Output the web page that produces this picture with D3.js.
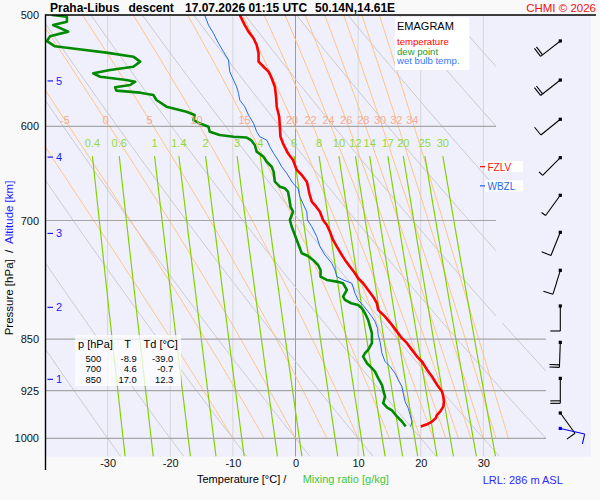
<!DOCTYPE html>
<html>
<head>
<meta charset="utf-8">
<title>Emagram Praha-Libus</title>
<script src="https://cdn.jsdelivr.net/npm/d3@7"></script>
<style>
  body { margin: 0; background: #f9f9f9; }
  svg text { font-family: "Liberation Sans", Arial, sans-serif; }
</style>
</head>
<body>
<svg id="chart" width="600" height="500"></svg>
<script>
const pressureTicks = [500, 600, 700, 850, 925, 1000];
const temperatureTicks = [-30, -20, -10, 0, 10, 20, 30];
const altitudeKm = [1, 2, 3, 4, 5];
const altitudePressure = [908, 807, 715, 631, 557];
const mixingRatios = [0.4, 0.6, 1, 1.4, 2, 3, 4, 6, 8, 10, 12, 14, 17, 20, 25, 30];
const wetAdiabats = [-10, -5, 0, 5, 10, 15, 20, 22, 24, 26, 28, 30, 32, 34];
const dryAdiabats = [-30, -20, -10, 0, 10, 20, 30, 40, 50, 60, 70, 80, 90, 100, 110, 120];

// sounding, [pressure hPa, value °C]
const temperature = [[500,-8.9],[508.3,-8.1],[513.8,-7.5],[519.4,-6.7],[525.2,-6.2],[532.3,-5.9],[539.7,-5.9],[544.2,-5.1],[548.6,-4.3],[554.6,-3.8],[562.3,-3.3],[571.6,-3.1],[581.0,-3.0],[590.6,-2.6],[600.4,-2.5],[610.3,-2.4],[616.9,-2.0],[627.1,-1.2],[634.0,-0.4],[644.4,0.2],[649.8,1.0],[656.9,1.8],[662.3,2.0],[669.5,2.2],[678.8,2.6],[684.4,3.3],[690.0,3.9],[699.4,4.4],[705.2,5.0],[713.0,5.5],[722.7,6.0],[730.6,6.6],[740.7,7.4],[746.7,7.9],[755.0,8.7],[763.2,9.5],[769.5,10.0],[775.8,10.8],[784.3,11.6],[793.0,12.4],[801.6,13.0],[810.4,13.2],[819.4,14.3],[830.5,15.4],[839.7,16.2],[848.8,17.0],[855.8,17.8],[865.2,18.6],[874.7,19.4],[881.9,20.2],[889.2,20.7],[896.5,21.2],[903.8,21.8],[911.3,22.3],[918.8,22.8],[926.3,23.4],[933.9,23.6],[941.6,23.7],[949.4,23.6],[957.2,23.1],[962.3,22.6],[967.5,22.4],[972.9,21.8],[977.4,21.0],[980.9,20.0]];

const dewPoint = [[500,-38.9],[501.4,-36.5],[505.5,-36.5],[508.3,-38.7],[513.8,-36.3],[517.8,-39.2],[521.8,-39.7],[526.3,-38.4],[528.6,-34.9],[531.8,-30.2],[535.3,-25.9],[539.7,-24.8],[544.2,-25.9],[547.1,-29.6],[550.1,-32.3],[553.2,-31.2],[556.2,-27.0],[557.7,-25.6],[560.7,-26.4],[562.8,-28.8],[565.9,-28.6],[567.8,-24.8],[570.0,-22.7],[574.7,-22.2],[581.0,-20.6],[585.8,-17.4],[589.0,-16.1],[593.8,-16.3],[597.0,-15.3],[600.4,-13.9],[605.3,-13.7],[608.6,-12.1],[610.3,-9.9],[611.1,-7.8],[613.6,-7.1],[618.6,-6.5],[625.4,-6.2],[630.6,-5.1],[635.8,-4.6],[641.0,-3.8],[646.2,-3.5],[656.9,-3.3],[662.3,-2.5],[664.1,-1.7],[667.8,-1.2],[675.0,-1.0],[684.4,-0.8],[690.0,-0.4],[693.7,-0.6],[699.4,-0.9],[707.2,-0.6],[716.8,-0.1],[728.6,0.5],[738.6,1.0],[741.9,2.0],[746.7,2.8],[752.9,3.6],[759.1,4.0],[767.4,4.0],[771.6,5.0],[773.7,6.6],[775.8,7.6],[784.3,8.2],[793.0,7.6],[797.3,7.9],[801.6,8.9],[803.8,10.0],[808.2,10.6],[814.8,11.1],[823.8,11.6],[832.8,11.9],[841.9,12.2],[855.8,12.2],[865.2,11.6],[869.9,11.1],[874.7,10.8],[884.3,11.4],[891.5,12.2],[896.5,12.7],[906.2,13.2],[916.2,13.8],[923.7,14.0],[933.9,14.3],[944.1,14.0],[950.6,14.6],[955.3,15.4],[965.0,16.2],[972.9,17.0],[980.9,17.6]];

const wetBulb = [[500,-14.5],[504.1,-14.2],[508.3,-13.9],[515.2,-13.1],[523.7,-12.3],[531.0,-11.5],[538.2,-10.7],[548.6,-10.5],[556.2,-9.9],[562.3,-9.4],[568.4,-9.1],[574.7,-8.9],[581.0,-8.1],[589.0,-7.5],[597.0,-6.7],[605.3,-6.2],[610.3,-5.7],[613.6,-4.6],[620.3,-4.1],[627.1,-3.5],[634.0,-2.8],[641.0,-2.2],[648.0,-1.4],[658.7,-0.4],[664.1,0.4],[673.3,0.7],[682.5,1.3],[690.0,1.8],[699.4,1.9],[707.2,2.6],[718.8,3.4],[730.6,3.9],[740.7,4.7],[750.8,5.8],[759.1,6.3],[767.4,6.6],[771.6,7.6],[775.8,9.0],[788.6,9.5],[797.3,10.0],[804.5,10.8],[812.7,11.6],[819.4,12.2],[826.1,12.7],[835.1,13.1],[844.2,13.2],[853.6,13.5],[869.9,13.8],[881.9,14.3],[889.2,15.1],[898.8,15.9],[908.7,16.4],[918.8,17.0],[928.7,17.2],[941.6,17.5],[951.8,18.0],[962.3,18.3],[972.9,18.6],[980.9,18.4]];

// wind barbs (knots), every 500 m
const windPressure = [521.7, 556.2, 593.1, 631.6, 671.7, 713.7, 759.5, 805.2, 854.6, 906.5, 959.4];
const windDirection = [232, 232, 231, 225, 216, 202, 197, 180, 182, 180, 144];
const windSpeed = [20, 20, 10, 5, 5, 10, 10, 10, 20, 20, 10];
const surfaceWind = {p: 984, dir: 103, speed: 10};

const tableRows = [['500', '-8.9', '-39.0'], ['700', '4.6', '-0.7'], ['850', '17.0', '12.3']];

const plotBottom = 456.7;
const frameRight = 591;

const svg = d3.select('#chart');

const xScale = d3.scaleLinear().domain([-40, 40]).range([45, 546]);
const yScale = d3.scaleLog().domain([500, 1000]).range([15, 438.3]);

const profileLine = d3.line()
  .x(d => xScale(d[1]))
  .y(d => yScale(d[0]));

svg.append('rect')
  .attr('width', 600).attr('height', 500)
  .attr('fill', '#f9f9f9');
svg.append('rect')
  .attr('x', 45).attr('y', 15)
  .attr('width', frameRight - 45).attr('height', plotBottom - 15)
  .attr('fill', '#f0f0fd');

// lines stop earlier at the top, to leave room for the barbs
const stepY = yScale(828);
svg.append('clipPath').attr('id', 'plotClip')
  .append('path')
  .attr('d', `M45,15H${xScale(32)}V${stepY}H${xScale(40)}V${plotBottom}H45Z`);

const grid = svg.append('g').attr('clip-path', 'url(#plotClip)');

grid.selectAll('.isotherm')
  .data(temperatureTicks)
  .join('line')
  .attr('x1', d => xScale(d)).attr('x2', d => xScale(d))
  .attr('y1', 15).attr('y2', plotBottom)
  .attr('stroke', d => d === 0 ? '#9c9c9c' : '#d6d6d6')
  .attr('stroke-width', 1);

// thermodynamic helpers
function satVap(tc) {
  return 6.112 * Math.exp(17.67 * tc / (tc + 243.5));
}
function dewFromMix(w, p) {
  const l = Math.log(w * p / (622 + w) / 6.112);
  return 243.5 * l / (17.67 - l);
}
function moistLapse(t, p) {
  const es = satVap(t - 273.15);
  const rs = 0.622 * es / (p - es);
  return (287.04 * t + 2.501e6 * rs) / (1005.7 + 2.501e6 * 2.501e6 * rs * 0.622 / (287.04 * t * t));
}
function moistLine(thw) {
  const pts = [];
  let t = thw + 273.15;
  for (let p = 1000; p >= 500; p -= 2) {
    pts.push([p, t - 273.15]);
    const dl = Math.log((p - 2) / p);
    const k1 = moistLapse(t, p);
    const k2 = moistLapse(t + k1 * dl / 2, p - 1);
    t += k2 * dl;
  }
  return pts;
}

const drySteps = d3.range(1030, 499, -5);
grid.selectAll('.dry')
  .data(dryAdiabats)
  .join('path')
  .attr('d', th => profileLine(drySteps.map(p => [p, (th + 273.15) * Math.pow(p / 1000, 0.2857) - 273.15])))
  .attr('fill', 'none')
  .attr('stroke', '#cacaca')
  .attr('stroke-width', 1);

const moistCurves = wetAdiabats.map(moistLine);
grid.selectAll('.moist')
  .data(moistCurves)
  .join('path')
  .attr('d', profileLine)
  .attr('fill', 'none')
  .attr('stroke', '#ffc27e')
  .attr('stroke-width', 1);

const mixSteps = d3.range(630, 1031, 10);
grid.selectAll('.mix')
  .data(mixingRatios)
  .join('path')
  .attr('d', w => profileLine(mixSteps.map(p => [p, dewFromMix(w, p)])))
  .attr('fill', 'none')
  .attr('stroke', '#84d000')
  .attr('stroke-width', 1.2);

grid.selectAll('.isobar')
  .data(pressureTicks.filter(p => p > 500))
  .join('line')
  .attr('x1', 45).attr('x2', xScale(40))
  .attr('y1', d => yScale(d)).attr('y2', d => yScale(d))
  .attr('stroke', '#a6a6a6')
  .attr('stroke-width', 1.2);

// labels of the background lines
const labelP = 594;
svg.selectAll('.moistLabel')
  .data(wetAdiabats.map((th, i) => ({th: th, t: moistCurves[i].find(d => d[0] <= labelP)[1]})).filter(d => xScale(d.t) > 55))
  .join('text')
  .attr('x', d => xScale(d.t))
  .attr('y', yScale(labelP) + 4)
  .attr('text-anchor', 'middle')
  .attr('font-size', 11)
  .attr('fill', '#f6ab90')
  .text(d => d.th);

svg.selectAll('.mixLabel')
  .data(mixingRatios)
  .join('text')
  .attr('x', w => xScale(dewFromMix(w, 630)))
  .attr('y', yScale(630) - 9.5)
  .attr('text-anchor', 'middle')
  .attr('font-size', 11)
  .attr('fill', '#92d83c')
  .text(w => w);

// profiles
const profiles = [
  {data: temperature, color: '#ff0000', width: 2.6},
  {data: dewPoint, color: '#008a00', width: 2.6},
  {data: wetBulb, color: '#2468f0', width: 1}
];
grid.selectAll('.profile')
  .data(profiles)
  .join('path')
  .attr('d', d => profileLine(d.data))
  .attr('fill', 'none')
  .attr('stroke', d => d.color)
  .attr('stroke-width', d => d.width)
  .attr('stroke-linejoin', 'round');

// freezing level / wet bulb zero
function zeroCrossing(data) {
  for (let i = 1; i < data.length; i++) {
    const a = data[i - 1], b = data[i];
    if (a[1] < 0 && b[1] >= 0) return a[0] + (b[0] - a[0]) * (-a[1]) / (b[1] - a[1]);
  }
  return null;
}
const levelLabels = [
  {name: 'FZLV', p: zeroCrossing(temperature), color: '#ff1010'},
  {name: 'WBZL', p: zeroCrossing(wetBulb), color: '#2468f0'}
];
const levels = svg.selectAll('.level')
  .data(levelLabels)
  .join('g')
  .attr('transform', d => `translate(0, ${yScale(d.p)})`);
levels.append('line')
  .attr('x1', 480).attr('x2', 485)
  .attr('stroke', d => d.color).attr('stroke-width', 1.3);
levels.append('rect')
  .attr('x', 485).attr('y', -5.5).attr('width', 38).attr('height', 11)
  .attr('fill', '#ffffff');
levels.append('text')
  .attr('x', 487.5).attr('y', 4.2)
  .attr('font-size', 10)
  .attr('fill', d => d.color)
  .text(d => d.name);

// axes
const leftAxis = svg.append('g')
  .attr('transform', 'translate(45, 0)')
  .call(d3.axisLeft(yScale).tickValues(pressureTicks).tickFormat(d => d).tickSize(0).tickPadding(6));
leftAxis.select('.domain').remove();
leftAxis.selectAll('text').attr('font-size', 11).attr('fill', '#111');

const bottomAxis = svg.append('g')
  .attr('transform', `translate(0, ${plotBottom})`)
  .call(d3.axisBottom(xScale).tickValues(temperatureTicks).tickFormat(d => d).tickSize(0).tickPadding(2));
bottomAxis.select('.domain').remove();
bottomAxis.selectAll('text').attr('font-size', 11).attr('fill', '#111');

svg.append('line')
  .attr('x1', 45.5).attr('x2', 45.5).attr('y1', 14.5).attr('y2', 470)
  .attr('stroke', '#000').attr('stroke-width', 1.4);
svg.append('line')
  .attr('x1', 45).attr('x2', 596).attr('y1', 15).attr('y2', 15)
  .attr('stroke', '#000').attr('stroke-width', 1.6);

const altTicks = svg.selectAll('.alt')
  .data(altitudeKm)
  .join('g')
  .attr('transform', (d, i) => `translate(0, ${yScale(altitudePressure[i])})`);
altTicks.append('line')
  .attr('x1', 47.5).attr('x2', 53)
  .attr('stroke', '#1a1aff').attr('stroke-width', 1.2);
altTicks.append('text')
  .attr('x', 56).attr('y', 4)
  .attr('font-size', 11)
  .attr('fill', '#1a1aff')
  .text(d => d);

// wind barbs
const barbs = svg.append('g');
function drawBarb(p, dir, speed, color) {
  const x0 = 560.3, y0 = yScale(p);
  const rad = dir * Math.PI / 180;
  const ux = Math.sin(rad), uy = -Math.cos(rad);
  const len = 25;
  const g = barbs.append('g').attr('stroke', color).attr('stroke-width', 1.1);
  g.append('line')
    .attr('x1', x0).attr('y1', y0)
    .attr('x2', x0 + ux * len).attr('y2', y0 + uy * len);
  const feather = (pos, size) => {
    const bx = x0 + ux * pos, by = y0 + uy * pos;
    g.append('line')
      .attr('x1', bx).attr('y1', by)
      .attr('x2', bx - uy * size).attr('y2', by + ux * size);
  };
  let rest = speed, pos = len;
  while (rest >= 10) {
    feather(pos, 10);
    pos -= 2.5;
    rest -= 10;
  }
  if (rest >= 5) feather(pos, 5);
  g.append('rect')
    .attr('x', x0 - 1.6).attr('y', y0 - 1.6)
    .attr('width', 3.2).attr('height', 3.2)
    .attr('fill', color).attr('stroke', 'none');
}
windPressure.forEach((p, i) => drawBarb(p, windDirection[i], windSpeed[i], '#000'));
drawBarb(surfaceWind.p, surfaceWind.dir, surfaceWind.speed, '#0000ee');

// legend
svg.append('rect')
  .attr('x', 395).attr('y', 17.3).attr('width', 74.3).attr('height', 52.7)
  .attr('fill', '#ffffff');
svg.append('text').attr('x', 397).attr('y', 29.5).attr('font-size', 11).attr('fill', '#000').text('EMAGRAM');
const legendItems = [['temperature', '#ff0000'], ['dew point', '#1f9a1f'], ['wet bulb temp.', '#3377ff']];
svg.selectAll('.legendItem')
  .data(legendItems)
  .join('text')
  .attr('x', 397)
  .attr('y', (d, i) => 45 + i * 9.7)
  .attr('font-size', 9.6)
  .attr('fill', d => d[1])
  .text(d => d[0]);

// table of standard levels
svg.append('rect')
  .attr('x', 75).attr('y', 335).attr('width', 106).attr('height', 51)
  .attr('fill', '#ffffff').attr('fill-opacity', 0.75);
const table = svg.append('g').attr('fill', '#000');
table.append('text').attr('x', 78).attr('y', 347.5).attr('font-size', 11).text('p [hPa]');
table.append('text').attr('x', 127.7).attr('y', 347.5).attr('font-size', 11).attr('text-anchor', 'middle').text('T');
table.append('text').attr('x', 143.5).attr('y', 347.5).attr('font-size', 11).text('Td [°C]');
tableRows.forEach((row, i) => {
  const y = 361.5 + i * 10.5;
  const cells = table.append('g').attr('font-size', 9.4);
  cells.append('text').attr('x', 93.3).attr('y', y).attr('text-anchor', 'middle').text(row[0]);
  cells.append('text').attr('x', 136.7).attr('y', y).attr('text-anchor', 'end').text(row[1]);
  cells.append('text').attr('x', 173.3).attr('y', y).attr('text-anchor', 'end').text(row[2]);
});

// titles
const title = svg.append('g').attr('font-size', 12).attr('font-weight', 'bold').attr('fill', '#000');
title.append('text').attr('x', 50).attr('y', 11.5).text('Praha-Libus');
title.append('text').attr('x', 128.5).attr('y', 11.5).text('descent');
title.append('text').attr('x', 185).attr('y', 11.5).text('17.07.2026 01:15 UTC');
title.append('text').attr('x', 315).attr('y', 11.5).text('50.14N,14.61E');
svg.append('text')
  .attr('x', 596).attr('y', 11.5)
  .attr('text-anchor', 'end')
  .attr('font-size', 11.5)
  .attr('fill', '#ee1111')
  .text('CHMI © 2026');

svg.append('text').attr('x', 197).attr('y', 483).attr('font-size', 11).attr('fill', '#000').text('Temperature [°C]  /');
svg.append('text').attr('x', 302.7).attr('y', 483).attr('font-size', 11).attr('fill', '#3cc83c').text('Mixing ratio [g/kg]');
svg.append('text').attr('x', 482.7).attr('y', 484).attr('font-size', 11).attr('fill', '#2a2aff').text('LRL: 286 m ASL');

const yTitle = svg.append('text')
  .attr('transform', 'translate(12.5, 258) rotate(-90)')
  .attr('text-anchor', 'middle')
  .attr('font-size', 11.5)
  .attr('xml:space', 'preserve');
yTitle.append('tspan').attr('fill', '#000').text('Pressure [hPa]  /  ');
yTitle.append('tspan').attr('fill', '#1a1aff').text('Altitude [km]');
</script>
</body>
</html>
